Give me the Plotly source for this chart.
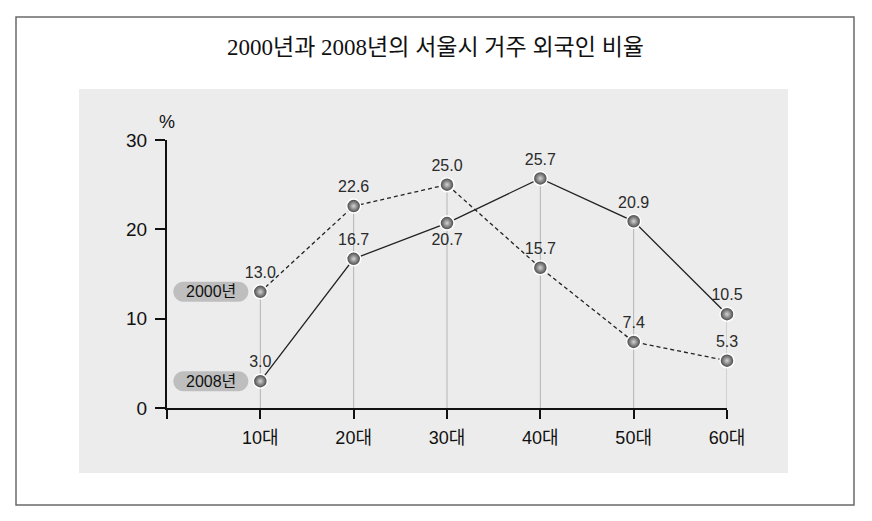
import plotly.graph_objects as go

# 서울시 거주 외국인 비율 (%)
age_groups = ["10대", "20대", "30대", "40대", "50대", "60대"]
ratio_2000 = [13.0, 22.6, 25.0, 15.7, 7.4, 5.3]
ratio_2008 = [3.0, 16.7, 20.7, 25.7, 20.9, 10.5]
series_names = ["2000년", "2008년"]
y_ticks = [0, 10, 20, 30]

title_text = "2000년과 2008년의 서울시 거주 외국인 비율"

xpos = list(range(1, len(age_groups) + 1))
sans = "Liberation Sans, Arial, Noto Sans CJK KR"

fig = go.Figure()

# 세로 보조선 (0 ~ 최대값)
drop_x, drop_y = [], []
for x, a, b in zip(xpos, ratio_2000, ratio_2008):
    drop_x += [x, x, None]
    drop_y += [0, max(a, b), None]
fig.add_trace(go.Scatter(x=drop_x, y=drop_y, mode="lines",
                         line=dict(color="#b4b4b4", width=1),
                         hoverinfo="skip", showlegend=False, cliponaxis=False))

marker_style = dict(size=14, color="#3c3c3c",
                    gradient=dict(type="radial", color="#d4d4d4"),
                    line=dict(color="white", width=1.5))

fig.add_trace(go.Scatter(
    x=xpos, y=ratio_2000, mode="lines+markers+text", name=series_names[0],
    line=dict(color="#222222", width=1.3, dash="4px,3px"),
    marker=marker_style,
    text=["%.1f" % v for v in ratio_2000], textposition="top center",
    textfont=dict(family=sans, size=16, color="#2a2a2a"),
    cliponaxis=False, showlegend=False))

pos_2008 = ["top center", "top center", "bottom center",
            "top center", "top center", "top center"]
fig.add_trace(go.Scatter(
    x=xpos, y=ratio_2008, mode="lines+markers+text", name=series_names[1],
    line=dict(color="#222222", width=1.3),
    marker=marker_style,
    text=["%.1f" % v for v in ratio_2008], textposition=pos_2008,
    textfont=dict(family=sans, size=16, color="#2a2a2a"),
    cliponaxis=False, showlegend=False))

# 범례 알약 모양
pill = ("M -77,-10 L -22,-10 C -16.48,-10 -12,-5.52 -12,0 "
        "C -12,5.52 -16.48,10 -22,10 L -77,10 C -82.52,10 -87,5.52 -87,0 "
        "C -87,-5.52 -82.52,-10 -77,-10 Z")
shapes = [
    dict(type="rect", xref="paper", yref="paper", layer="below",
         x0=(79 - 167) / 560, x1=(788 - 167) / 560,
         y0=(408 - 473) / 268, y1=(408 - 89) / 268,
         fillcolor="#ececec", line=dict(width=0)),
    dict(type="rect", xref="paper", yref="paper", layer="below",
         x0=(16 - 167) / 560, x1=(854 - 167) / 560,
         y0=(408 - 505) / 268, y1=(408 - 17) / 268,
         fillcolor="rgba(0,0,0,0)", line=dict(color="#6a6a6a", width=1.5)),
]
annotations = []
for name, vals in zip(series_names, [ratio_2000, ratio_2008]):
    shapes.append(dict(type="path", xref="x", yref="y",
                       xsizemode="pixel", ysizemode="pixel",
                       xanchor=xpos[0], yanchor=vals[0], path=pill,
                       fillcolor="#bebebe", line=dict(width=0)))
    annotations.append(dict(x=xpos[0], y=vals[0], xref="x", yref="y",
                            xshift=-49.5, text=name, showarrow=False,
                            font=dict(family=sans, size=16, color="#111111")))

annotations.append(dict(x=0, y=30, xref="x", yref="y", yshift=18, text="%",
                        showarrow=False,
                        font=dict(family=sans, size=18, color="#111111")))
annotations.append(dict(x=(435 - 167) / 560, y=(408 - 47) / 268,
                        xref="paper", yref="paper",
                        yanchor="middle", text=title_text, showarrow=False,
                        font=dict(family="Liberation Serif, Noto Sans CJK KR",
                                  size=23, color="#111111")))

# 페이지 여백(8px)을 감안한 크기
fig.update_layout(
    width=856, height=505,
    margin=dict(l=159, r=137, t=132, b=105),
    paper_bgcolor="white", plot_bgcolor="rgba(0,0,0,0)",
    shapes=shapes, annotations=annotations,
    xaxis=dict(range=[0, len(age_groups)], tickmode="array",
               tickvals=[0] + xpos, ticktext=[""] + age_groups,
               ticks="outside", ticklen=9, tickwidth=2, tickcolor="#111111",
               showline=True, linewidth=2, linecolor="#111111",
               showgrid=False, zeroline=False, ticklabelstandoff=3,
               tickfont=dict(family=sans, size=18, color="#111111")),
    yaxis=dict(range=[0, 30], tickmode="array", tickvals=y_ticks,
               ticks="outside", ticklen=10, tickwidth=2, tickcolor="#111111",
               showline=True, linewidth=2, linecolor="#111111",
               showgrid=False, zeroline=False, ticklabelstandoff=4,
               tickfont=dict(family=sans, size=19, color="#111111")),
)

fig.write_html("out.html")
